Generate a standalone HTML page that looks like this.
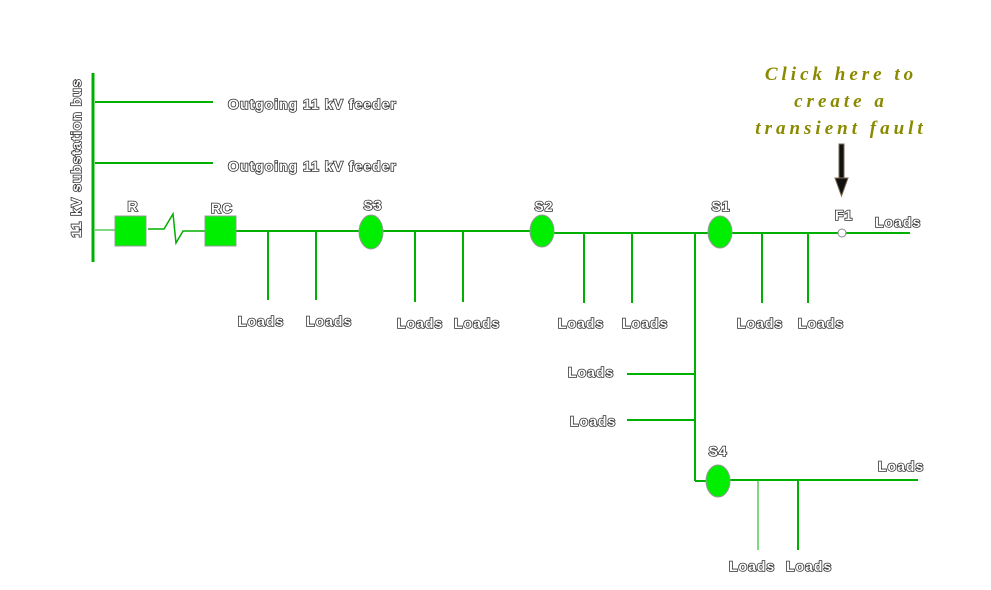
<!DOCTYPE html>
<html><head><meta charset="utf-8"><style>
html,body{margin:0;padding:0;background:#fff;}
svg{display:block;}
.t{font-family:"Liberation Sans",sans-serif;font-weight:bold;font-size:14px;letter-spacing:1px;fill:#fff;stroke:#333;stroke-width:1.6px;paint-order:stroke;}
.c{font-family:"Liberation Serif",serif;font-style:italic;font-weight:bold;font-size:19px;fill:#8a8a00;letter-spacing:4px;}
</style></head><body>
<svg width="991" height="590" viewBox="0 0 991 590" xmlns="http://www.w3.org/2000/svg">
<g stroke="#00b000" stroke-width="2" fill="none">
<line x1="93" y1="73" x2="93" y2="262" stroke-width="3"/>
<line x1="95" y1="102" x2="213" y2="102"/>
<line x1="95" y1="163" x2="213" y2="163"/>
<line x1="95" y1="230" x2="115" y2="230" stroke-width="1"/>
<polyline points="148,229 164,229 173,214 176,243 183,231 205,231" stroke-width="1.5"/>
<line x1="236" y1="231" x2="530" y2="231"/>
<line x1="554" y1="233" x2="708" y2="233"/>
<line x1="732" y1="233" x2="838" y2="233"/>
<line x1="846" y1="233" x2="910" y2="233"/>
<line x1="268" y1="231" x2="268" y2="300"/>
<line x1="316" y1="231" x2="316" y2="300"/>
<line x1="415" y1="231" x2="415" y2="302"/>
<line x1="463" y1="231" x2="463" y2="302"/>
<line x1="584" y1="233" x2="584" y2="303"/>
<line x1="632" y1="233" x2="632" y2="303"/>
<line x1="762" y1="233" x2="762" y2="303"/>
<line x1="808" y1="233" x2="808" y2="303"/>
<line x1="695" y1="233" x2="695" y2="481"/>
<line x1="627" y1="374" x2="695" y2="374"/>
<line x1="627" y1="420" x2="695" y2="420"/>
<line x1="695" y1="481" x2="706" y2="481"/>
<line x1="730" y1="480" x2="918" y2="480"/>
<line x1="758" y1="480" x2="758" y2="550" stroke-width="1"/>
<line x1="798" y1="480" x2="798" y2="550"/>
</g>
<g fill="#00ee00" stroke="#999" stroke-width="1">
<rect x="115" y="216" width="31" height="30"/>
<rect x="205" y="216" width="31" height="30"/>
<ellipse cx="371" cy="232" rx="12" ry="17"/>
<ellipse cx="542" cy="231" rx="12" ry="16"/>
<ellipse cx="720" cy="232" rx="12" ry="16"/>
<ellipse cx="718" cy="481" rx="12" ry="16"/>
</g>
<circle cx="842" cy="233" r="4" fill="#fff" stroke="#888"/>
<rect x="839" y="144" width="5" height="38" fill="#111" stroke="#7a6a50" stroke-width="1"/>
<polygon points="835,178 848,178 841.5,196" fill="#111" stroke="#7a6a50"/>
<text class="c" x="841" y="80" text-anchor="middle">Click here to</text>
<text class="c" x="841" y="107" text-anchor="middle">create a</text>
<text class="c" x="841" y="134" text-anchor="middle">transient  fault</text>
<text class="t" transform="translate(81,158) rotate(-90)" text-anchor="middle">11 kV substation bus</text>
<text class="t" x="228" y="109">Outgoing 11 kV feeder</text>
<text class="t" x="228" y="171">Outgoing 11 kV feeder</text>
<text class="t" x="133" y="211" text-anchor="middle">R</text>
<text class="t" x="222" y="213" text-anchor="middle">RC</text>
<text class="t" x="373" y="210" text-anchor="middle">S3</text>
<text class="t" x="544" y="211" text-anchor="middle">S2</text>
<text class="t" x="721" y="211" text-anchor="middle">S1</text>
<text class="t" x="718" y="456" text-anchor="middle">S4</text>
<text class="t" x="844" y="220" text-anchor="middle">F1</text>
<text class="t" x="875" y="227">Loads</text>
<text class="t" x="238" y="326">Loads</text>
<text class="t" x="306" y="326">Loads</text>
<text class="t" x="397" y="328">Loads</text>
<text class="t" x="454" y="328">Loads</text>
<text class="t" x="558" y="328">Loads</text>
<text class="t" x="622" y="328">Loads</text>
<text class="t" x="737" y="328">Loads</text>
<text class="t" x="798" y="328">Loads</text>
<text class="t" x="568" y="377">Loads</text>
<text class="t" x="570" y="426">Loads</text>
<text class="t" x="878" y="471">Loads</text>
<text class="t" x="729" y="571">Loads</text>
<text class="t" x="786" y="571">Loads</text>
</svg>
</body></html>
